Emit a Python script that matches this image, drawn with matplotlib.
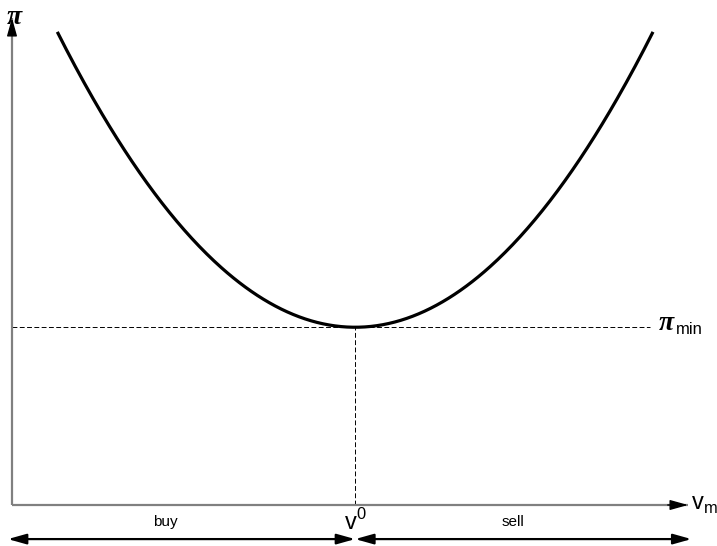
import numpy as np
import matplotlib
matplotlib.use('Agg')
from matplotlib import pyplot as plt

plt.rcParams['font.family'] = ['Liberation Sans', 'DejaVu Sans']
plt.rcParams['mathtext.fontset'] = 'custom'
plt.rcParams['mathtext.rm'] = 'Liberation Sans'

# profit curve around the optimal volume
v0 = 5.0
pi_min = 3.65
curv = 0.322
v_span = (0.66, 9.34)

v_max = 9.85
pi_max = 10.0

zone_labels = ['buy', 'sell']

HEAD = '-|>,head_length=1.0,head_width=0.28'
HEAD2 = '<|-|>,head_length=1.0,head_width=0.28'


def axis_arrow(ax, start, end):
    # grey shaft, black head
    ax.plot([start[0], end[0]], [start[1], end[1]], color='#808080', lw=1.6,
            solid_capstyle='butt', clip_on=False)
    ax.annotate('', xy=end, xytext=(end[0] - (end[0] - start[0]) * 0.03,
                                    end[1] - (end[1] - start[1]) * 0.03),
                arrowprops=dict(arrowstyle=HEAD, color='black', lw=1.0,
                                mutation_scale=11, shrinkA=0, shrinkB=0),
                annotation_clip=False)


def main():
    fig = plt.figure(figsize=(7.17, 5.46), dpi=100)
    ax = fig.add_axes([12 / 717, 41 / 546, 676 / 717, 487 / 546])
    ax.set_xlim(0, v_max)
    ax.set_ylim(0, pi_max)
    ax.axis('off')

    v = np.linspace(v_span[0], v_span[1], 400)
    pi = pi_min + curv * (v - v0) ** 2
    ax.plot(v, pi, color='black', lw=2.3, solid_capstyle='butt', clip_on=False)

    ax.plot([0, 9.3], [pi_min, pi_min], color='black', lw=0.7,
            dashes=(5, 2.5), clip_on=False)
    ax.plot([v0, v0], [0, pi_min], color='black', lw=0.7,
            dashes=(5, 2.5), clip_on=False)

    axis_arrow(ax, (0, 0), (v_max, 0))
    axis_arrow(ax, (0, 0), (0, pi_max))

    pi_font = dict(family='Liberation Serif', style='italic', weight='bold',
                   fontsize=20, clip_on=False)
    ax.text(0.04, 10.26, 'π', ha='center', va='top', **pi_font)
    ax.text(9.43, pi_min + 0.08, 'π', ha='left', va='center', **pi_font)
    ax.text(9.67, pi_min - 0.04, 'min', fontsize=12, ha='left', va='center',
            clip_on=False)

    ax.text(9.9, 0.0, r'$\mathrm{v}_\mathrm{m}$', fontsize=17, ha='left',
            va='center', clip_on=False)
    ax.text(v0, -0.35, r'$\mathrm{v}^0$', fontsize=17, ha='center',
            va='center', clip_on=False)

    y_arr = -0.7
    for x0, x1 in [(-0.06, v0), (v0, 9.9)]:
        ax.annotate('', xy=(x0, y_arr), xytext=(x1, y_arr),
                    arrowprops=dict(arrowstyle=HEAD2, color='black', lw=1.6,
                                    mutation_scale=11, shrinkA=0, shrinkB=0),
                    annotation_clip=False)

    ax.text(2.23, -0.34, zone_labels[0], fontsize=11, ha='center', va='center',
            clip_on=False)
    ax.text(7.3, -0.34, zone_labels[1], fontsize=11, ha='center', va='center',
            clip_on=False)

    fig.savefig('out.png', dpi=100)


if __name__ == '__main__':
    main()
